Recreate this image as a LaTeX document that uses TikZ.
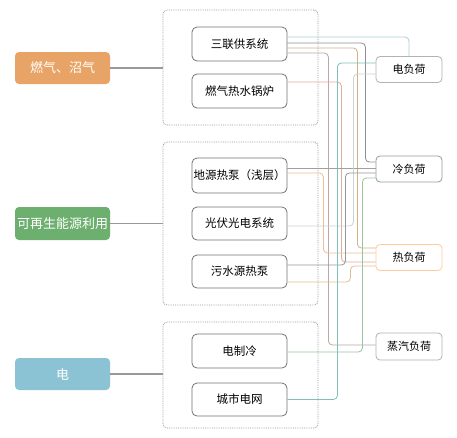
\documentclass[tikz,border=0pt]{standalone}
\usepackage{fontspec}
\setmainfont{Noto Sans CJK SC}
\usetikzlibrary{positioning}
\definecolor{cOrange}{HTML}{E8A466}
\definecolor{cGreen}{HTML}{6CAF6E}
\definecolor{cBlue}{HTML}{8BC3D5}
\definecolor{cA}{HTML}{A9CFDA}
\definecolor{cB}{HTML}{8F8F8F}
\definecolor{cC}{HTML}{D4B08A}
\definecolor{cD}{HTML}{B8A8A8}
\definecolor{cE}{HTML}{E7A9A3}
\definecolor{cF}{HTML}{A0A0A0}
\definecolor{cF2}{HTML}{EDBE95}
\definecolor{cG}{HTML}{C8D3D6}
\definecolor{cH}{HTML}{8F9A9A}
\definecolor{cH2}{HTML}{E0BE96}
\definecolor{cI}{HTML}{9CC49C}
\definecolor{cJ}{HTML}{7CC2B6}
\tikzset{
  srcbox/.style={rectangle, rounded corners=4pt, minimum width=95pt, minimum height=32pt, text=white, font=\fontsize{13}{15}\selectfont, inner sep=0pt},
  grpbox/.style={rectangle, rounded corners=4pt, draw=black!40, densely dotted, line width=0.8pt},
  innerbox/.style={rectangle, rounded corners=5pt, draw=black!55, line width=0.8pt, minimum width=95pt, minimum height=34pt, font=\fontsize{11.5}{13}\selectfont, inner sep=0pt, fill=white},
  loadbox/.style={rectangle, rounded corners=4pt, draw=black!30, line width=0.8pt, minimum width=66pt, minimum height=26pt, font=\fontsize{11}{13}\selectfont, inner sep=0pt, fill=white},
  trunk/.style={draw=black!40, line width=1.2pt},
  conn/.style={line width=0.8pt, rounded corners=4pt}
}
\begin{document}
\begin{tikzpicture}[x=1pt,y=-1pt]
\useasboundingbox[fill=white] (0,0) rectangle (457,437);
% groups
\node[grpbox, minimum width=155pt, minimum height=115pt] (g1) at (240.5,67.5) {};
\node[grpbox, minimum width=155pt, minimum height=163pt] (g2) at (240.5,223.5) {};
\node[grpbox, minimum width=155pt, minimum height=106pt] (g3) at (240.5,375) {};
% sources
\node[srcbox, fill=cOrange] (s1) at (62.5,68) {燃气、沼气};
\node[srcbox, fill=cGreen, minimum height=33pt] (s2) at (62.5,223.5) {可再生能源利用};
\node[srcbox, fill=cBlue] (s3) at (62.5,374) {电};
\draw[trunk] (s1.east) -- (s1.east -| g1.west);
\draw[trunk] (s2.east) -- (s2.east -| g2.west);
\draw[trunk] (s3.east) -- (s3.east -| g3.west);
% loads
\node[loadbox] (L1) at (409,69.5) {电负荷};
\node[loadbox, draw=black!40] (L2) at (409,169) {冷负荷};
\node[loadbox, draw=orange!40] (L3) at (409,257.5) {热负荷};
\node[loadbox, minimum height=27pt] (L4) at (409,346.5) {蒸汽负荷};
% inner boxes
\node[innerbox] (b1) at (239.5,44) {三联供系统};
\node[innerbox] (b2) at (239.5,91) {燃气热水锅炉};
\node[innerbox, minimum height=35pt] (b3) at (239.5,175.5) {地源热泵（浅层）};
\node[innerbox, minimum height=33pt] (b4) at (239.5,223.5) {光伏光电系统};
\node[innerbox, minimum height=33pt] (b5) at (239.5,271.5) {污水源热泵};
\node[innerbox] (b6) at (239.5,351) {电制冷};
\node[innerbox, minimum height=33pt] (b7) at (239.5,399.5) {城市电网};
% connectors
\draw[conn, cA] ([yshift=7pt]b1.east) -| (L1.north);
\draw[conn, cB] ([yshift=1pt]b1.east) -- ++(78,0) |- ([yshift=7pt]L2.west);
\draw[conn, cC] ([yshift=-4pt]b1.east) -- ++(70,0) |- ([yshift=9.5pt]L3.west);
\draw[conn, cD] ([yshift=-9pt]b1.east) -- ++(41,0) |- ([yshift=1.5pt]L4.west);
\draw[conn, cE] ([yshift=9pt]b2.east) -- ++(54,0) |- ([yshift=-4.5pt]L3.west);
\draw[conn, cF] ([yshift=7.5pt]b3.east) -- ([yshift=7.5pt]b3.east -| L2.west);
\draw[conn, cF2] ([yshift=2.5pt]b3.east) -- ++(36,0) |- ([yshift=4.5pt]L3.west);
\draw[conn, cG] ([yshift=-2.5pt]b4.east) -- ++(66,0) |- ([yshift=-4.5pt]L1.west);
\draw[conn, cH] ([yshift=6.5pt]b5.east) -- ++(58,0) |- ([yshift=-4pt]L2.west);
\draw[conn, cH2] ([yshift=-10.5pt]b5.east) -- ++(63,0) |- ([yshift=-8.5pt]L3.west);
\draw[conn, cI] ([yshift=-1pt]b6.east) -- ++(75,0) |- ([yshift=-9pt]L2.west);
\draw[conn, cJ] (b7.east) -- ++(50,0) |- ([yshift=6.5pt]L1.west);
\end{tikzpicture}
\end{document}
